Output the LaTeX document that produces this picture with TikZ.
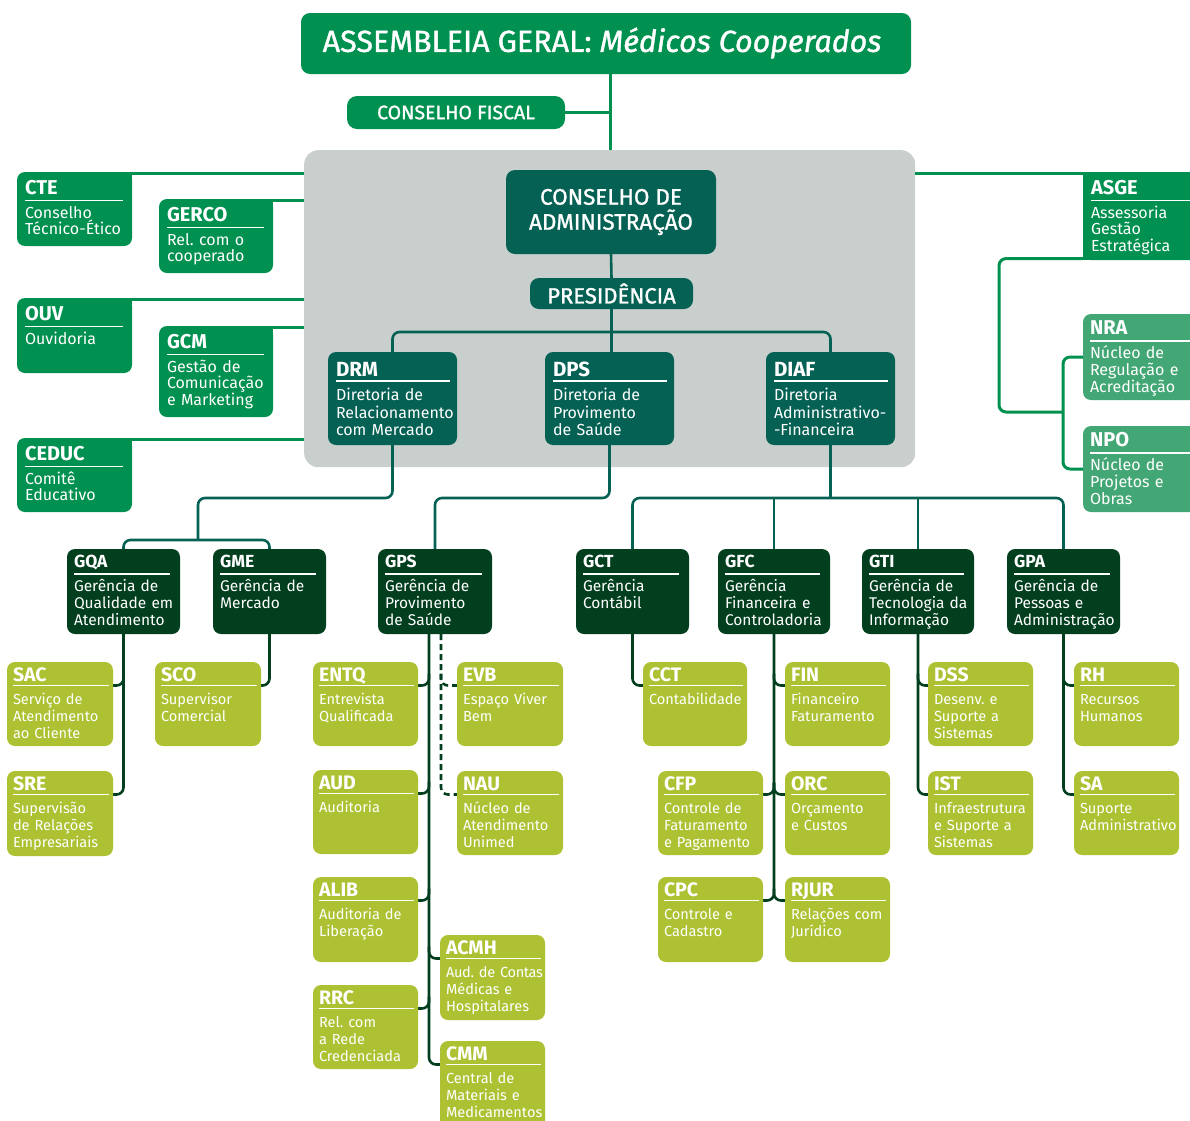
\documentclass[tikz,border=0pt]{standalone}
\usepackage{fontspec}
\setmainfont{Fira Sans}[WordSpace=0.75]
\newfontfamily\medfont{Fira Sans}[FakeBold=1.2]
\usetikzlibrary{calc,backgrounds}
\definecolor{cMed}{HTML}{00904F}
\definecolor{cTeal}{HTML}{046153}
\definecolor{cDark}{HTML}{023F1F}
\definecolor{cYel}{HTML}{AEC132}
\definecolor{cLight}{HTML}{43A775}
\definecolor{cGrey}{HTML}{C8CFCD}
\def\clsS{\def\bxfill{cMed}\def\bxcb{22}\def\bxcu{28.5}\def\bxcd{46}\def\bxcs{20}\def\bxds{16}\def\bxdk{16.8}\def\bxpl{8}\def\bxpr{9}}
\def\clsR{\def\bxfill{cLight}\def\bxcb{20.5}\def\bxcu{27}\def\bxcd{44.5}\def\bxcs{20}\def\bxds{16}\def\bxdk{17}\def\bxpl{7}\def\bxpr{13}}
\def\clsD{\def\bxfill{cTeal}\def\bxcb{24}\def\bxcu{29}\def\bxcd{48.5}\def\bxcs{20.5}\def\bxds{16}\def\bxdk{17.5}\def\bxpl{8}\def\bxpr{7.5}}
\def\clsG{\def\bxfill{cDark}\def\bxcb{18.5}\def\bxcu{25}\def\bxcd{42}\def\bxcs{17.5}\def\bxds{15.5}\def\bxdk{17.3}\def\bxpl{7}\def\bxpr{10}}
\def\clsY{\def\bxfill{cYel}\def\bxcb{19}\def\bxcu{23.5}\def\bxcd{42}\def\bxcs{19.5}\def\bxds{14.6}\def\bxdk{17.3}\def\bxpl{6}\def\bxpr{4}}
\newcommand\obox[8]{%
  #2%
  \pgfmathsetmacro\bxw{#5-#3}%
  \pgfmathsetmacro\bxh{#6-#4}%
  \node[obox, fill=\bxfill, minimum width=\bxw pt, minimum height=\bxh pt, anchor=north west] (#1) at (#3,#4) {};
  \coordinate (#1-L) at (#3,#4+\bxcu);
  \coordinate (#1-R) at (#5,#4+\bxcu);
  \node[codetext, font=\fontsize{\bxcs}{\bxcs}\selectfont\bfseries, anchor=base west] (#1-c) at (#3+\bxpl,#4+\bxcb) {#7};
  \draw[uline] (#3+\bxpl,#4+\bxcu) -- (#5-\bxpr,#4+\bxcu);
  \node[desctext, font=\fontsize{\bxds}{\bxdk}\selectfont, anchor=base west] (#1-d) at (#3+\bxpl,#4+\bxcd) {#8};
}
\newcommand\brx[2]{\draw[lnDark] ($(#1 |- #2)+(0,-12)$) -- (#1 |- #2) -- (#2);}
\begin{document}
\frenchspacing
\begin{tikzpicture}[x=1pt,y=-1pt,
  obox/.style={rectangle, rounded corners=8pt, inner sep=0pt, outer sep=0pt, draw=none},
  codetext/.style={text=white, inner sep=0pt, outer sep=0pt},
  desctext/.style={text=white, inner sep=0pt, outer sep=0pt, align=left, text width=150pt},
  uline/.style={white, line width=1.6pt},
  lnMed/.style={cMed, line width=3pt, rounded corners=7pt},
  lnTeal/.style={cTeal, line width=2.6pt, rounded corners=7pt},
  lnDark/.style={cDark, line width=2.6pt, rounded corners=7pt},
  bigtext/.style={text=white, inner sep=0pt, align=center}]
\useasboundingbox (0,0) rectangle (1190,1120);

% top
\node[obox, fill=cMed, rounded corners=9pt, minimum width=610pt, minimum height=61pt, anchor=north west] (AG) at (301,13) {};
\node[bigtext, font=\medfont\fontsize{30.5}{30.5}\selectfont] (AGt) at (602,43) {ASSEMBLEIA GERAL: \textit{Médicos Cooperados}};
\node[obox, fill=cMed, rounded corners=10pt, minimum width=218pt, minimum height=33pt, anchor=north west] (CF) at (347,96) {};
\node[bigtext, font=\medfont\fontsize{19.5}{19.5}\selectfont] (CFt) at (CF.center) {CONSELHO FISCAL};
\node[obox, fill=cTeal, rounded corners=9pt, minimum width=210pt, minimum height=84pt, anchor=north west] (CA) at (506,170) {};
\node[bigtext, font=\medfont\fontsize{22.5}{25}\selectfont] (CAt) at (CA.center) {CONSELHO DE\\ADMINISTRAÇÃO};
\node[obox, fill=cTeal, rounded corners=9pt, minimum width=163pt, minimum height=31pt, anchor=north west] (PRES) at (530,278) {};
\node[bigtext, font=\medfont\fontsize{22}{22}\selectfont] (PRESt) at (PRES.center) {PRESIDÊNCIA};

% side boxes
\obox{CTE}{\clsS}{17}{172}{132}{246}{CTE}{Conselho\\Técnico-Ético}
\fill[cMed] (CTE.north east) rectangle ++(-10,10);
\obox{GERCO}{\clsS}{159}{199}{273}{273}{GERCO}{Rel. com o\\cooperado}
\fill[cMed] (GERCO.north east) rectangle ++(-10,10);
\obox{OUV}{\clsS}{17}{298}{132}{373}{OUV}{Ouvidoria}
\fill[cMed] (OUV.north east) rectangle ++(-10,10);
\obox{GCM}{\clsS}{159}{326}{273}{417}{GCM}{Gestão de\\Comunicação\\e Marketing}
\fill[cMed] (GCM.north east) rectangle ++(-10,10);
\obox{CEDUC}{\clsS}{17}{438}{132}{512}{CEDUC}{Comitê\\Educativo}
\fill[cMed] (CEDUC.north east) rectangle ++(-10,10);
\obox{ASGE}{\clsS}{1083}{172}{1204}{260}{ASGE}{Assessoria\\Gestão\\Estratégica}
\fill[cMed] (ASGE.north west) rectangle ++(10,10);
\fill[cMed] (ASGE.south west) rectangle ++(10,-10);
\obox{NRA}{\clsR}{1083}{314}{1204}{400}{NRA}{Núcleo de\\Regulação e\\Acreditação}
\obox{NPO}{\clsR}{1083}{426}{1204}{512}{NPO}{Núcleo de\\Projetos e\\Obras}

% directorates
\obox{DRM}{\clsD}{328}{352}{457}{445}{DRM}{Diretoria de\\Relacionamento\\com Mercado}
\obox{DPS}{\clsD}{545}{352}{674}{445}{DPS}{Diretoria de\\Provimento\\de Saúde}
\obox{DIAF}{\clsD}{766}{352}{895}{445}{DIAF}{Diretoria\\Administrativo-\\-Financeira}

% managements
\obox{GQA}{\clsG}{67}{549}{180}{634}{GQA}{Gerência de\\Qualidade em\\Atendimento}
\obox{GME}{\clsG}{213}{549}{326}{634}{GME}{Gerência de\\Mercado}
\obox{GPS}{\clsG}{378}{549}{492}{634}{GPS}{Gerência de\\Provimento\\de Saúde}
\obox{GCT}{\clsG}{576}{549}{689}{634}{GCT}{Gerência\\Contábil}
\obox{GFC}{\clsG}{718}{549}{830}{634}{GFC}{Gerência\\Financeira e\\Controladoria}
\obox{GTI}{\clsG}{862}{549}{974}{634}{GTI}{Gerência de\\Tecnologia da\\Informação}
\obox{GPA}{\clsG}{1007}{549}{1120}{634}{GPA}{Gerência de\\Pessoas e\\Administração}

% units
\obox{SAC}{\clsY}{7}{662}{113}{746}{SAC}{Serviço de\\Atendimento\\ao Cliente}
\obox{SRE}{\clsY}{7}{771}{113}{856}{SRE}{Supervisão\\de Relações\\Empresariais}
\obox{SCO}{\clsY}{155}{662}{261}{746}{SCO}{Supervisor\\Comercial}
\obox{ENTQ}{\clsY}{313}{662}{418}{746}{ENTQ}{Entrevista\\Qualificada}
\obox{AUD}{\clsY}{313}{770}{418}{854}{AUD}{Auditoria}
\obox{ALIB}{\clsY}{313}{877}{418}{962}{ALIB}{Auditoria de\\Liberação}
\obox{RRC}{\clsY}{313}{985}{418}{1069}{RRC}{Rel. com\\a Rede\\Credenciada}
\obox{EVB}{\clsY}{457}{662}{563}{746}{EVB}{Espaço Viver\\Bem}
\obox{NAU}{\clsY}{457}{771}{563}{855}{NAU}{Núcleo de\\Atendimento\\Unimed}
\obox{ACMH}{\clsY}{440}{935}{545}{1020}{ACMH}{{\addfontfeature{LetterSpace=-2.5}Aud. de Contas}\\Médicas e\\Hospitalares}
\obox{CMM}{\clsY}{440}{1041}{545}{1135}{CMM}{Central de\\Materiais e\\Medicamentos}
\obox{CCT}{\clsY}{643}{662}{747}{746}{CCT}{Contabilidade}
\obox{FIN}{\clsY}{785}{662}{890}{746}{FIN}{Financeiro\\Faturamento}
\obox{CFP}{\clsY}{658}{771}{763}{855}{CFP}{Controle de\\Faturamento\\e Pagamento}
\obox{ORC}{\clsY}{785}{771}{890}{855}{ORC}{Orçamento\\e Custos}
\obox{CPC}{\clsY}{658}{877}{763}{962}{CPC}{Controle e\\Cadastro}
\obox{RJUR}{\clsY}{785}{877}{890}{962}{RJUR}{Relações com\\Jurídico}
\obox{DSS}{\clsY}{928}{662}{1033}{746}{DSS}{Desenv. e\\Suporte a\\Sistemas}
\obox{IST}{\clsY}{928}{771}{1033}{855}{IST}{Infraestrutura\\e Suporte a\\Sistemas}
\obox{RH}{\clsY}{1074}{662}{1179}{746}{RH}{Recursos\\Humanos}
\obox{SA}{\clsY}{1074}{771}{1179}{855}{SA}{Suporte\\Administrativo}

\begin{pgfonlayer}{background}
\node[fill=cGrey, rounded corners=14pt, minimum width=611pt, minimum height=317pt, inner sep=0pt, anchor=north west] (grey) at (304,150) {};
\coordinate (trunk) at (610,0);
\draw[lnMed] (AG.south -| trunk) -- (grey.north -| trunk);
\draw[lnMed] (CF.east) -- (CF.east -| trunk);
\foreach \n in {CTE,OUV,CEDUC,GERCO,GCM} {
  \coordinate (tmp) at ([yshift=-1.4pt]\n.north east);
  \draw[lnMed] (tmp) -- (tmp -| grey.west);
}
\coordinate (asA) at ([yshift=-1.4pt]ASGE.north west);
\draw[lnMed] (asA) -- (asA -| grey.east);
\coordinate (asB) at ([yshift=1.4pt]ASGE.south west);
\coordinate (jA) at (999,412);
\coordinate (jB) at (1063,412);
\draw[lnMed] (asB) -| (jA) -- (jB);
\draw[lnMed] (NRA.west) -- (NRA.west -| jB) -- (NPO.west -| jB) -- (NPO.west);

\draw[lnTeal] (CA.south) -- (PRES.north);
\draw[lnTeal] (PRES.south) -- (PRES.south |- DPS.north);
\coordinate (barA) at (0,332);
\draw[lnTeal] (DRM.north) |- (barA -| PRES.south) -| (DIAF.north);
\coordinate (barB) at (0,498);
\coordinate (jC) at (198,540);
\draw[lnTeal] (DRM.south) -- (DRM.south |- barB) -| (jC);
\draw[lnTeal] (GQA.north) |- (jC) -| (GME.north);
\draw[lnTeal] (DPS.south) -- (DPS.south |- barB) -| (GPS.north);
\draw[lnTeal] (DIAF.south) -- (DIAF.south |- barB);
\draw[lnTeal] (GCT.north) |- (DIAF.south |- barB) -| (GPA.north);
\draw[lnTeal] (GFC.north) -- (GFC.north |- barB);
\draw[lnTeal] (GTI.north) -- (GTI.north |- barB);

\draw[lnDark] (GQA.south) |- (SRE-R);
\brx{GQA.south}{SAC-R}
\draw[lnDark] (GME.south) |- (SCO-R);
\coordinate (gpsS) at (429,634);
\coordinate (gpsD) at (441,634);
\draw[lnDark] (gpsS) |- (CMM-L);
\brx{gpsS}{ENTQ-R}
\brx{gpsS}{AUD-R}
\brx{gpsS}{ALIB-R}
\brx{gpsS}{RRC-R}
\brx{gpsS}{ACMH-L}
\draw[lnDark, dash pattern=on 6pt off 4pt] (gpsD) |- (NAU-L);
\draw[lnDark, dash pattern=on 6pt off 4pt] ($(gpsD |- EVB-L)+(0,-12)$) -- (gpsD |- EVB-L) -- (EVB-L);
\draw[lnDark] (GCT.south) |- (CCT-L);
\draw[lnDark] (GFC.south) |- (CPC-R);
\brx{GFC.south}{FIN-L}
\brx{GFC.south}{CFP-R}
\brx{GFC.south}{ORC-L}
\brx{GFC.south}{RJUR-L}
\draw[lnDark] (GTI.south) |- (IST-L);
\brx{GTI.south}{DSS-L}
\draw[lnDark] (GPA.south) |- (SA-L);
\brx{GPA.south}{RH-L}
\end{pgfonlayer}
\end{tikzpicture}
\end{document}
